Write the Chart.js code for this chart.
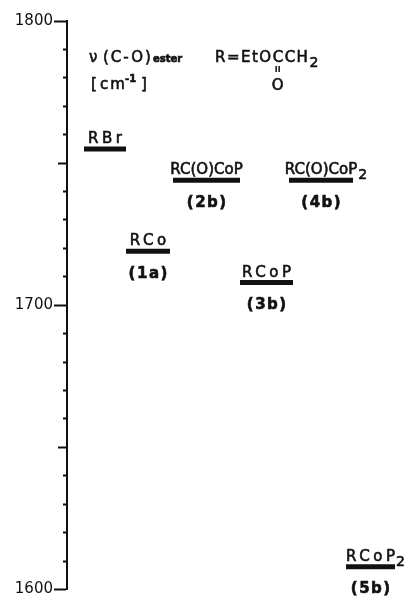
<!DOCTYPE html>
<html>
<head>
<meta charset="utf-8">
<script src="https://cdn.jsdelivr.net/npm/chart.js@4"></script>
<style>
html, body { margin: 0; padding: 0; background: #fff; }
canvas { display: block; }
</style>
</head>
<body>
<canvas id="chart" width="410" height="598"></canvas>
<script>
const species = ["RBr", "RCo", "RC(O)CoP", "RCoP", "RC(O)CoP", "RCoP"];
const subscripts = ["", "", "", "", "2", "2"];
const compounds = ["", "1a", "2b", "3b", "4b", "5b"];
const wavenumbers = [1755, 1719, 1744, 1708, 1744, 1608];
const yTickLabels = [1600, 1700, 1800];

// horizontal extent of each level, in x-scale units
const spans = [[17, 59], [59, 103], [106, 173], [173, 226], [222, 286], [279, 328]];

const ink = "#111";
const family = "'DejaVu Sans', sans-serif";

// fill + thin stroke, the scanned lettering is heavier than DejaVu regular
function put(ctx, str, x, y, font, spacing) {
    ctx.font = font;
    ctx.letterSpacing = (spacing || 0) + "px";
    ctx.fillText(str, x, y);
    ctx.lineWidth = 0.6;
    ctx.strokeText(str, x, y);
    return ctx.measureText(str).width;
}

const labelPlugin = {
    id: "levelLabels",
    afterDatasetsDraw(chart) {
        const ctx = chart.ctx;
        const xs = chart.scales.x, ys = chart.scales.y;
        ctx.save();
        ctx.fillStyle = ink;
        ctx.strokeStyle = ink;
        ctx.textAlign = "left";
        ctx.textBaseline = "alphabetic";

        species.forEach((name, i) => {
            const x1 = xs.getPixelForValue(spans[i][0]);
            const x2 = xs.getPixelForValue(spans[i][1]);
            const y = ys.getPixelForValue(wavenumbers[i]);
            const cx = (x1 + x2) / 2;
            const spacing = name.length <= 4 ? 3.5 : 0;
            ctx.font = "15px " + family;
            ctx.letterSpacing = spacing + "px";
            const w = ctx.measureText(name).width - spacing;
            const w0 = put(ctx, name, cx - w / 2, y - 6, "15px " + family, spacing);
            if (subscripts[i]) {
                put(ctx, subscripts[i], cx - w / 2 + w0 - spacing + 1, y - 1, "14px " + family, 0);
            }
            if (compounds[i]) {
                const txt = "(" + compounds[i] + ")";
                ctx.font = "bold 15px " + family;
                ctx.letterSpacing = "1.5px";
                const cw = ctx.measureText(txt).width - 1.5;
                ctx.textBaseline = "top";
                put(ctx, txt, cx - cw / 2, y + 15, "bold 15px " + family, 1.5);
                ctx.textBaseline = "alphabetic";
            }
        });

        // header annotation
        put(ctx, "\u03bd", 89, 62, "15px " + family, 0);
        put(ctx, "(C-O)", 103, 62, "15px " + family, 2);
        put(ctx, "ester", 153, 62, "bold 10px " + family, 0);

        put(ctx, "[", 91, 89, "15px " + family, 0);
        put(ctx, "cm", 100, 89, "15px " + family, 2);
        put(ctx, "-1", 125, 82, "bold 10px " + family, 0);
        put(ctx, "]", 141, 89, "15px " + family, 0);

        const wR = put(ctx, "R=EtO", 215, 62, "15px " + family, 1.5);
        const cX = 215 + wR;
        const wC = put(ctx, "CCH", cX, 62, "15px " + family, 1.5);
        put(ctx, "2", cX + wC, 67, "14px " + family, 0);
        const mid = cX + 5;
        ctx.lineWidth = 1.5;
        ctx.beginPath();
        ctx.moveTo(mid - 1.5, 66); ctx.lineTo(mid - 1.5, 72);
        ctx.moveTo(mid + 1.5, 66); ctx.lineTo(mid + 1.5, 72);
        ctx.stroke();
        ctx.textAlign = "center";
        put(ctx, "O", mid, 90, "15px " + family, 0);
        ctx.restore();
    }
};

const datasets = species.map((name, i) => ({
    label: name + subscripts[i],
    data: [
        { x: spans[i][0], y: wavenumbers[i] },
        { x: spans[i][1], y: wavenumbers[i] }
    ],
    borderColor: ink,
    borderWidth: 5,
    pointRadius: 0,
    fill: false
}));

new Chart(document.getElementById("chart"), {
    type: "line",
    data: { datasets: datasets },
    plugins: [labelPlugin],
    options: {
        responsive: false,
        animation: false,
        devicePixelRatio: 1,
        layout: { padding: { top: 21, bottom: 8, left: 0, right: 0 } },
        plugins: { legend: { display: false }, tooltip: { enabled: false } },
        scales: {
            x: { type: "linear", display: false, min: 0, max: 343 },
            y: {
                min: 1600,
                max: 1800,
                afterFit: (s) => { s.width = 67; },
                ticks: {
                    stepSize: 10,
                    autoSkip: false,
                    padding: 1,
                    color: ink,
                    font: { family: family, size: 15, lineHeight: 1 },
                    callback: (v) => yTickLabels.includes(v) ? String(v) : ""
                },
                grid: {
                    drawOnChartArea: false,
                    tickLength: 13,
                    tickWidth: 2,
                    tickColor: ink,
                    tickBorderDash: (c) => {
                        const v = c.tick ? c.tick.value : 0;
                        if (v % 100 === 0) return [];
                        if (v % 50 === 0) return [0, 4, 9, 100];
                        return [0, 9, 4, 100];
                    }
                },
                border: { color: ink, width: 2 }
            }
        }
    }
});
</script>
</body>
</html>
